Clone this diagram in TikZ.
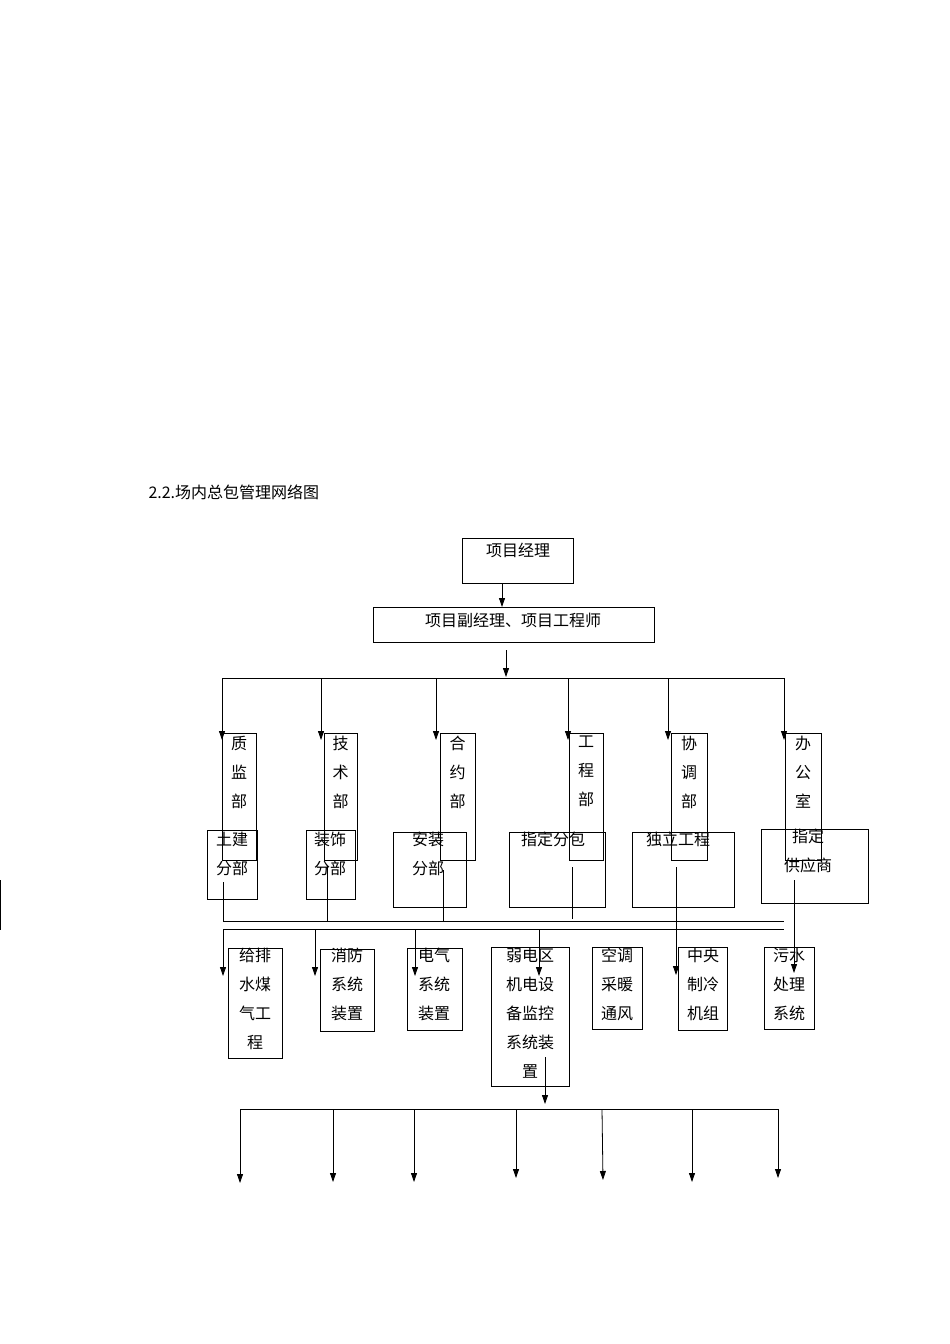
\documentclass[tikz,border=0pt]{standalone}
\usepackage{fontspec}
\setmainfont{Liberation Serif}
\newfontfamily\cjk{Noto Sans CJK SC}
\usetikzlibrary{arrows.meta}
\begin{document}
\begin{tikzpicture}[x=1pt,y=-1pt,
  ln/.style={line width=0.8pt},
  arr/.style={ln,-{Triangle[length=9pt,width=6pt]}},
  tx/.style={font=\cjk\fontsize{16}{29}\selectfont,inner sep=0pt,align=center}]
\useasboundingbox[fill=white] (0,0) rectangle (950,1344);
\node[font=\cjk\fontsize{16}{20}\selectfont,anchor=west] (title) at (145,492) {2.2.场内总包管理网络图};
\draw[ln] (0,880) -- (0,930);
% top
\draw[ln] (462,538) rectangle (573,583); \node[tx] (pm) at (518,550) {项目经理};
\draw[arr] (502,583) -- (502,607);
\draw[ln] (373,607) rectangle (654,642); \node[tx] (dpm) at (513,620) {项目副经理、项目工程师};
\draw[arr] (506,650) -- (506,677);
\draw[ln] (222,678) -- (784,678);
\foreach \x in {222,321,436,568,668,784} \draw[arr] (\x,678) -- (\x,740);
% dept tall boxes
\foreach \a/\b/\t in {222/256/{质\\监\\部},324/357/{技\\术\\部},440/475/{合\\约\\部},569/603/{工\\程\\部},671/707/{协\\调\\部},785/821/{办\\公\\室}}{
  \draw[ln] (\a,733) rectangle (\b,860);
  \node[tx,anchor=north] at ({(\a+\b)/2},736) {\t};}
% lower boxes
\draw[ln] (207,830) rectangle (257,899); \node[tx,anchor=north] at (232,832) {土建\\分部};
\draw[ln] (306,830) rectangle (355,899); \node[tx,anchor=north] at (330,832) {装饰\\分部};
\draw[ln] (393,832) rectangle (466,907); \node[tx,anchor=north] at (428,832) {安装\\分部};
\draw[ln] (509,832) rectangle (605,907); \node[tx,anchor=north] at (553,832) {指定分包};
\draw[ln] (632,832) rectangle (734,907); \node[tx,anchor=north] at (678,832) {独立工程};
\draw[ln] (761,829) rectangle (868,903); \node[tx,anchor=north] at (808,829) {指定\\供应商};
% connectors to buses
\draw[ln] (223,882) -- (223,921);
\draw[ln] (327,866) -- (327,921);
\draw[ln] (443,870) -- (443,921);
\draw[ln] (572,867) -- (572,919);
\draw[ln] (223,921) -- (784,921);
\draw[ln] (223,929) -- (784,929);
\draw[arr] (676,867) -- (676,975);
\draw[arr] (794,880) -- (794,973);
\foreach \x in {223,315,415,539} \draw[arr] (\x,929) -- (\x,976);
% bottom boxes
\draw[ln] (228,948) rectangle (282,1058); \node[tx,anchor=north] at (255,948) {给排\\水煤\\气工\\程};
\draw[ln] (320,949) rectangle (374,1031); \node[tx,anchor=north] at (347,948) {消防\\系统\\装置};
\draw[ln] (407,948) rectangle (462,1030); \node[tx,anchor=north] at (434,948) {电气\\系统\\装置};
\draw[ln] (491,947) rectangle (569,1086); \node[tx,anchor=north] at (530,948) {弱电区\\机电设\\备监控\\系统装\\置};
\draw[ln] (592,947) rectangle (642,1029); \node[tx,anchor=north] at (617,948) {空调\\采暖\\通风};
\draw[ln] (678,947) rectangle (727,1030); \node[tx,anchor=north] at (703,948) {中央\\制冷\\机组};
\draw[ln] (764,947) rectangle (814,1029); \node[tx,anchor=north] at (789,948) {污水\\处理\\系统};
% bottom bus
\draw[arr] (545,1057) -- (545,1104);
\draw[ln] (240,1109) -- (778,1109);
\foreach \x/\y in {240/1183,333/1182,414/1182,516/1178,692/1182,778/1178} \draw[arr] (\x,1109) -- (\x,\y);
\draw[arr] (602,1109) -- (603,1180);
\end{tikzpicture}
\end{document}
